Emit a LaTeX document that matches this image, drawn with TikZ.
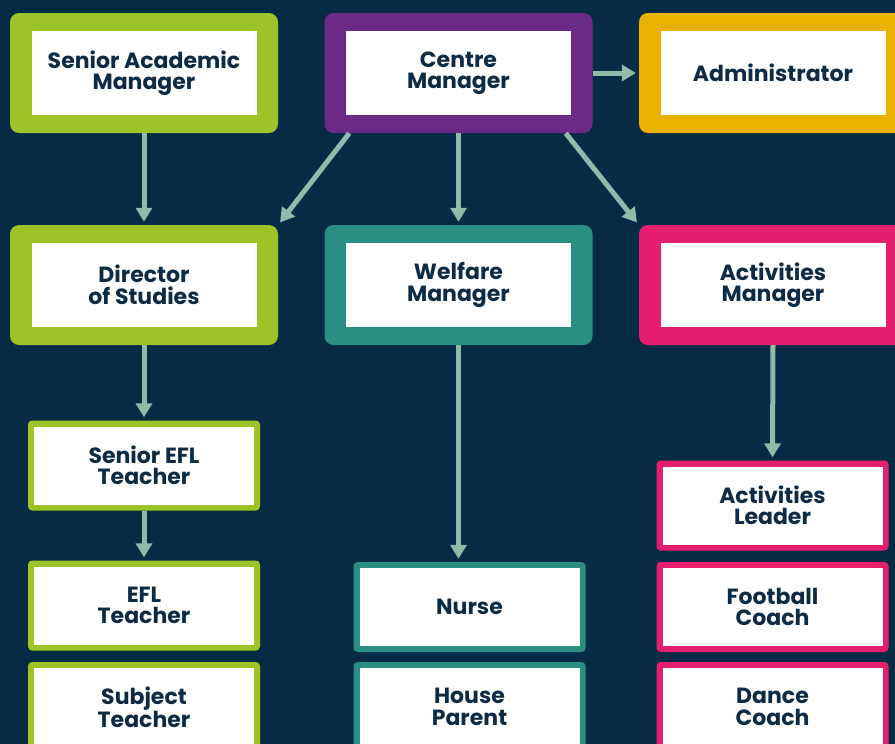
\documentclass[tikz,border=0pt]{standalone}
\usepackage{fontspec}
\setmainfont{Poppins}
\usetikzlibrary{arrows.meta,calc}
\definecolor{bgnavy}{RGB}{7,43,69}
\definecolor{cgreen}{RGB}{157,196,39}
\definecolor{cpurple}{RGB}{107,42,134}
\definecolor{cgold}{RGB}{233,178,0}
\definecolor{cteal}{RGB}{42,142,130}
\definecolor{cpink}{RGB}{229,31,112}
\definecolor{carrow}{RGB}{143,187,168}
\definecolor{ctext}{RGB}{13,43,69}
\tikzset{
  outerbig/.style={rounded corners=9pt, minimum width=268pt, minimum height=120pt, inner sep=0pt, draw=none},
  innerbig/.style={fill=white, minimum width=225pt, minimum height=84pt, inner sep=0pt, align=center,
    text=ctext, font=\fontsize{22}{21.5}\selectfont\bfseries},
  outersmall/.style={rounded corners=4pt, minimum width=232pt, minimum height=90pt, inner sep=0pt, draw=none},
  innersmall/.style={fill=white, minimum width=220pt, minimum height=78pt, inner sep=0pt, align=center,
    text=ctext, font=\fontsize{22}{21.5}\selectfont\bfseries},
  link/.style={draw=carrow, line width=5pt, -{Triangle[width=16pt,length=14pt]}, shorten >=3pt}
}
\newcommand\orgbig[4]{%
  \node[outerbig, fill=#3] (#1) at (#2) {};
  \node[innerbig] (#1-t) at (#2) {#4};}
\newcommand\orgsmall[4]{%
  \node[outersmall, fill=#3] (#1) at (#2) {};
  \node[innersmall] (#1-t) at (#2) {#4};}
\begin{document}
\begin{tikzpicture}[x=1pt,y=-1pt]
\useasboundingbox (0,0) rectangle (895,744);
\clip (0,0) rectangle (895,744);
\fill[bgnavy] (0,0) rectangle (895,744);
% top row
\orgbig{sam}{144,73}{cgreen}{Senior Academic\\Manager}
\orgbig{cm}{458.5,73}{cpurple}{Centre\\Manager}
\orgbig{adm}{773,73}{cgold}{Administrator}
% second row
\orgbig{dos}{144,285}{cgreen}{Director\\of Studies}
\orgbig{wm}{458.5,285}{cteal}{Welfare\\Manager}
\orgbig{am}{773,285}{cpink}{Activities\\Manager}
% lower boxes
\orgsmall{sefl}{144,465.5}{cgreen}{Senior EFL\\Teacher}
\orgsmall{efl}{144,605.5}{cgreen}{EFL\\Teacher}
\orgsmall{subj}{144,707}{cgreen}{Subject\\Teacher}
\orgsmall{nurse}{469.5,607}{cteal}{Nurse}
\orgsmall{hp}{469.5,707}{cteal}{House\\Parent}
\orgsmall{al}{772.5,505.5}{cpink}{Activities\\Leader}
\orgsmall{fc}{772.5,607}{cpink}{Football\\Coach}
\orgsmall{dc}{772.5,707}{cpink}{Dance\\Coach}
% connectors
\draw[link] (sam.south) -- (dos.north);
\draw[link] (cm.east) -- (adm.west);
\draw[link] ($(cm.south west)+(25,0)$) -- (dos.north east);
\draw[link] (cm.south) -- (wm.north);
\draw[link] ($(cm.south east)+(-27,0)$) -- (am.north west);
\draw[link] (dos.south) -- (sefl.north);
\draw[link] (sefl.south) -- (efl.north);
\draw[link] (wm.south) -- (wm.south |- nurse.north);
\draw[link] (am.south) -- (al.north);
\end{tikzpicture}
\end{document}
